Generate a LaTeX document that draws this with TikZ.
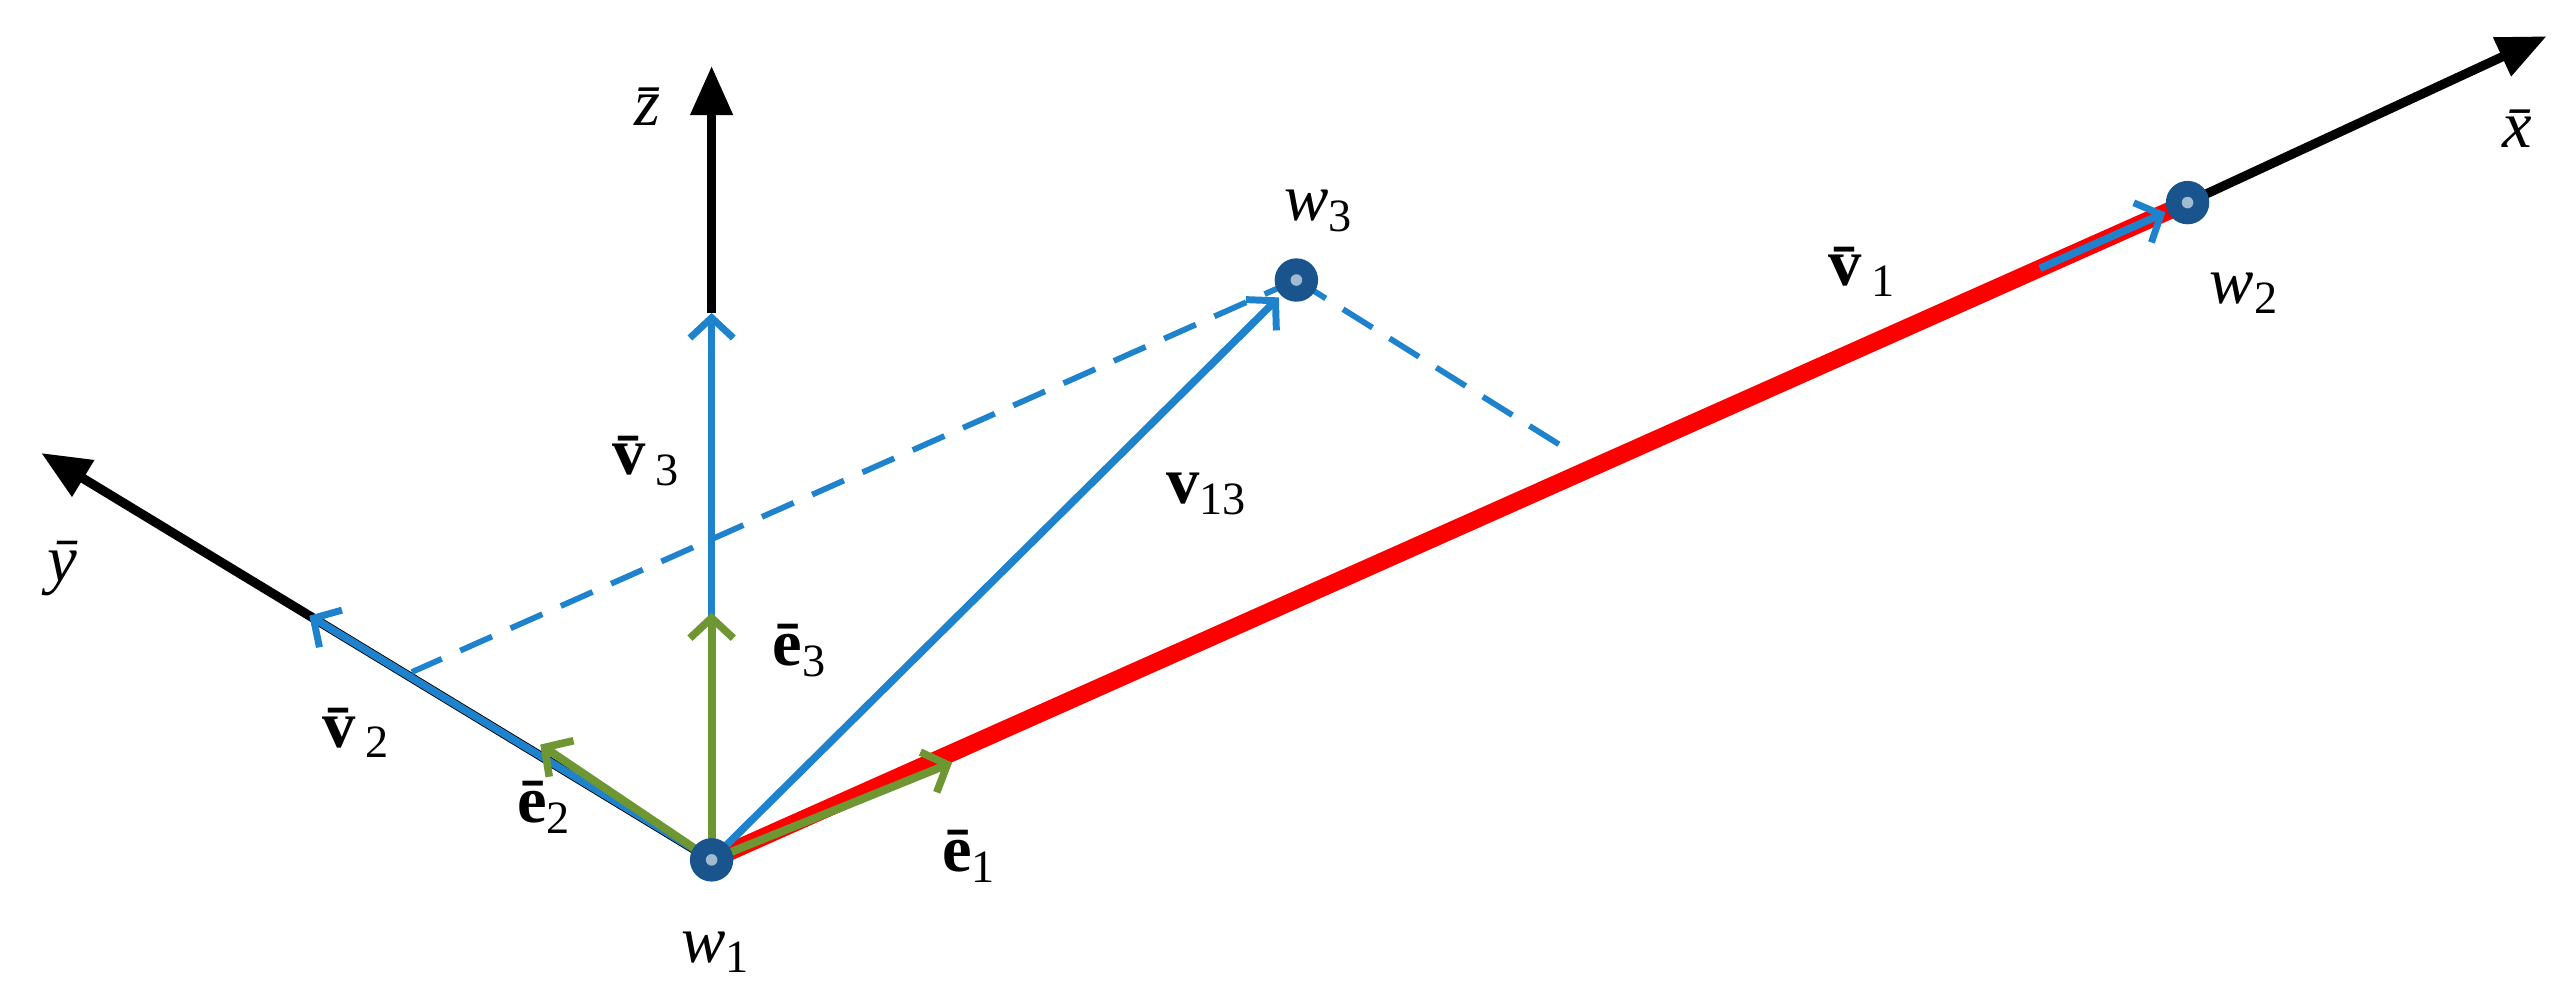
\documentclass[tikz,border=0pt]{standalone}
\usepackage{fontspec}
\setmainfont{Liberation Serif}
\usetikzlibrary{arrows.meta,calc}
\definecolor{myblue}{RGB}{30,130,205}
\definecolor{mygreen}{RGB}{110,150,50}
\definecolor{dotblue}{RGB}{25,85,140}
\newcommand\mysub[1]{\raisebox{-0.35ex}{\fontsize{16}{18}\selectfont #1}}
\begin{document}
\begin{tikzpicture}[x=0.02cm,y=-0.02cm,
  lbl/.style={font=\fontsize{23}{26}\selectfont, inner sep=0pt},
  axis/.style={line width=3.2pt, -{Triangle[length=17pt,width=14pt]}},
  vec/.style={myblue, line width=2.6pt, -{Straight Barb[length=7pt,width=15pt,line width=2.4pt]}},
  gvec/.style={mygreen, line width=2.8pt, -{Straight Barb[length=7pt,width=15pt,line width=2.6pt]}},
  dashline/.style={myblue, line width=2pt, dash pattern=on 12pt off 7pt},
  pt/.style={circle, fill=dotblue, minimum size=15pt, inner sep=0pt}]
\useasboundingbox (0,0) rectangle (1562,607);
\coordinate (w1) at (432,522);
\coordinate (zt) at (432,40);
\coordinate (zb) at (432,190);
\coordinate (yt) at (25,275);
\coordinate (xt) at (1546,22);
\coordinate (w2) at (1328,123);
\coordinate (w3) at (787,170);
\coordinate (d1) at (950,272);
\coordinate (d2) at (250,408);
% axes
\draw[axis] (zb) -- (zt);
\draw[axis] (w1) -- (yt);
\draw[line width=3.2pt] (w1) -- (w2);
\draw[axis] (w2) -- (xt);
% red
\draw[red, line width=6pt] (w1) -- (w2);
% dashed
\draw[dashline] (w3) -- (d1);
\draw[dashline] (w3) -- (d2);
% blue vectors
\draw[vec] (w1) -- (zb);
\draw[vec] (w1) -- ($(w1)!0.6!(yt)$);
\draw[vec] (w1) -- ($(w1)!0.97!(w3)$);
\draw[vec] ($(w1)!0.9!(w2)$) -- ($(w1)!0.985!(w2)$);
% green
\draw[gvec] (w1) -- (432,372);
\draw[gvec] (w1) -- (328,452);
\draw[gvec] (w1) -- (578,463);
% points
\node[pt] (p1) at (w1) {};
\node[pt] (p2) at (w2) {};
\node[pt] (p3) at (w3) {};
\fill[white!60!dotblue] (w2) circle (2pt) (w3) circle (2pt) (w1) circle (2pt);
% labels
\node[lbl] (lz) at (398,65) {\textit{\=z}};
\node[lbl] (lx) at (1533,78) {\textit{\=x}};
\node[lbl] (ly) at (38,345) {\textit{\=y}};
\node[lbl] (lw3) at (800,128) {\textit{w}\mysub{3}};
\node[lbl] (lw2) at (1362,178) {\textit{w}\mysub{2}};
\node[lbl] (lw1) at (434,578) {\textit{w}\mysub{1}};
\node[lbl] (lv1) at (1130,165) {\textbf{\=v}\mysub{1}};
\node[lbl] (lv3) at (392,280) {\textbf{\=v}\mysub{3}};
\node[lbl] (lv13) at (732,300) {\textbf{v}\mysub{13}};
\node[lbl] (le3) at (485,395) {\textbf{\=e}\mysub{3}};
\node[lbl] (lv2) at (216,445) {\textbf{\=v}\mysub{2}};
\node[lbl] (le2) at (330,490) {\textbf{\=e}\mysub{2}};
\node[lbl] (le1) at (588,520) {\textbf{\=e}\mysub{1}};
\end{tikzpicture}
\end{document}
